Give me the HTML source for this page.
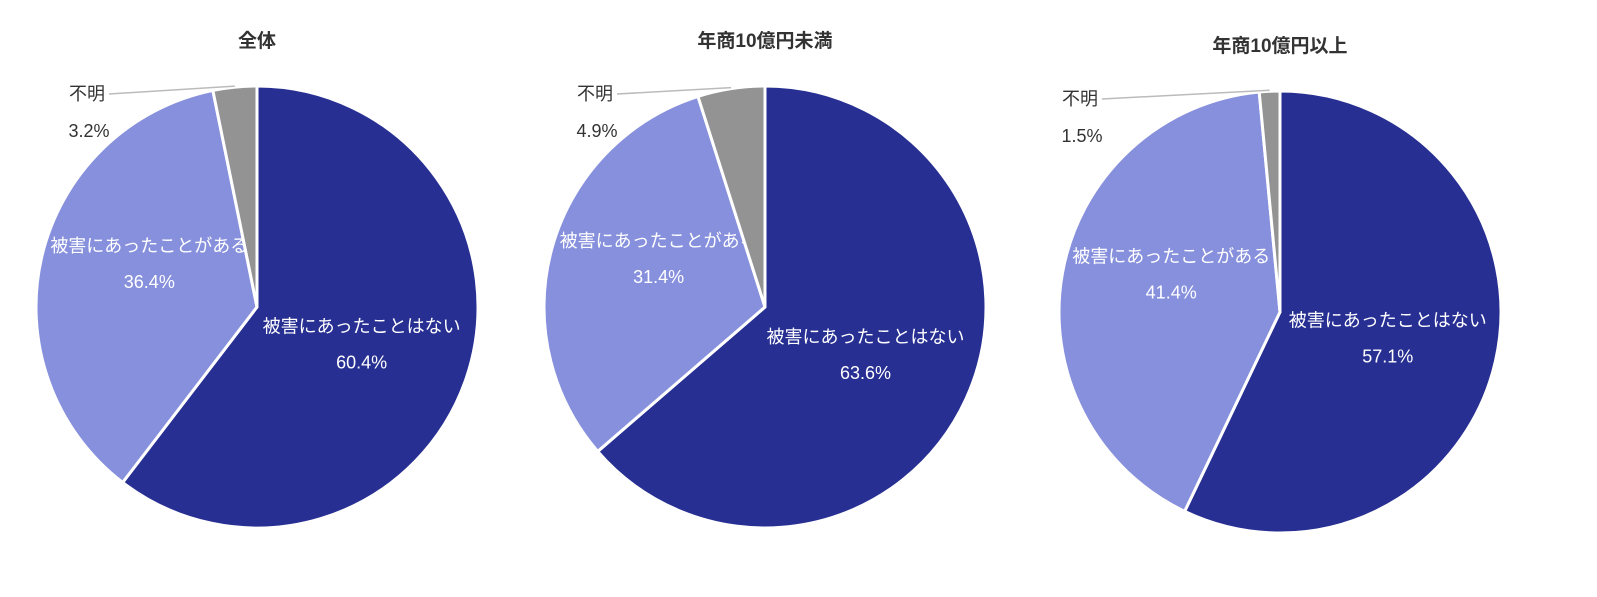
<!DOCTYPE html>
<html><head><meta charset="utf-8">
<style>
body{margin:0;background:#fff;}
svg text{font-family:"Liberation Sans","Noto Sans CJK JP",sans-serif;fill:#333;}
</style></head>
<body>
<svg id="chart" width="1597" height="592" viewBox="0 0 1597 592" xmlns="http://www.w3.org/2000/svg"></svg>
<script>
const chartTitles = ["全体", "年商10億円未満", "年商10億円以上"];
const categories = ["被害にあったことはない", "被害にあったことがある", "不明"];
const valuesAll = [60.4, 36.4, 3.2];
const valuesUnder = [63.6, 31.4, 4.9];
const valuesOver = [57.1, 41.4, 1.5];
const series = [valuesAll, valuesUnder, valuesOver];

const colors = ["#272f92", "#8790dc", "#939393"];
const layout = [{cx:257, cy:307, ty:47}, {cx:765, cy:307, ty:47}, {cx:1280, cy:312, ty:52}];
const R = 221;
const svg = document.getElementById('chart');
const NS = "http://www.w3.org/2000/svg";
function mk(tag, attrs, parent){const e=document.createElementNS(NS,tag);for(const k in attrs)e.setAttribute(k,attrs[k]);(parent||svg).appendChild(e);return e;}
function pt(cx,cy,r,frac){const a=frac*2*Math.PI;return [cx+r*Math.sin(a), cy-r*Math.cos(a)];}

series.forEach((vals, i) => {
  const L = layout[i];
  const g = mk('g', {});
  
  
  const t = mk('text', {x:L.cx, y:L.ty, 'text-anchor':'middle', 'font-size':19, 'font-weight':'bold'}, g);
  t.textContent = chartTitles[i];
  
  
  const total = vals.reduce((a,b)=>a+b,0);
  let acc = 0;
  vals.forEach((v, j) => {
    const f0 = acc/total, f1 = (acc+v)/total; acc += v;
    const p0 = pt(L.cx,L.cy,R,f0), p1 = pt(L.cx,L.cy,R,f1);
    const large = (f1-f0) > 0.5 ? 1 : 0;
    const p = mk('path', {d:`M${L.cx},${L.cy} L${p0[0]},${p0[1]} A${R},${R} 0 ${large} 1 ${p1[0]},${p1[1]} Z`, fill:colors[j], stroke:'#fff', 'stroke-width':3, 'stroke-linejoin':'round'}, g);
    
    
    const mid = (f0+f1)/2;
    if (j < 2) {
      const lp = pt(L.cx, L.cy, R*0.5, mid);
      const ly = j===0 ? lp[1]-2 : lp[1]-22;
      const a = mk('text', {x:lp[0], y:ly-8, 'text-anchor':'middle', 'font-size':18, style:'fill:#fff'}, g);
      a.textContent = categories[j];
      
      
      const b = mk('text', {x:lp[0], y:ly+28, 'text-anchor':'middle', 'font-size':18, style:'fill:#fff'}, g);
      b.textContent = v.toFixed(1) + '%';
      
      
    } else {
      const ep = pt(L.cx, L.cy, R, mid);
      const lx = L.cx - 170 - (i===2?30:0), ly = L.cy - 213;
      const ln = mk('line', {x1:lx+22, y1:ly, x2:ep[0], y2:ep[1]-1, stroke:'#bbb', 'stroke-width':1.5}, g);
      
      
      const a = mk('text', {x:lx, y:ly+6, 'text-anchor':'middle', 'font-size':18}, g);
      a.textContent = categories[j];
      
      
      const b = mk('text', {x:lx+2, y:ly+43, 'text-anchor':'middle', 'font-size':18}, g);
      b.textContent = v.toFixed(1) + '%';
      
      
    }
  });
});
</script>
</body></html>
